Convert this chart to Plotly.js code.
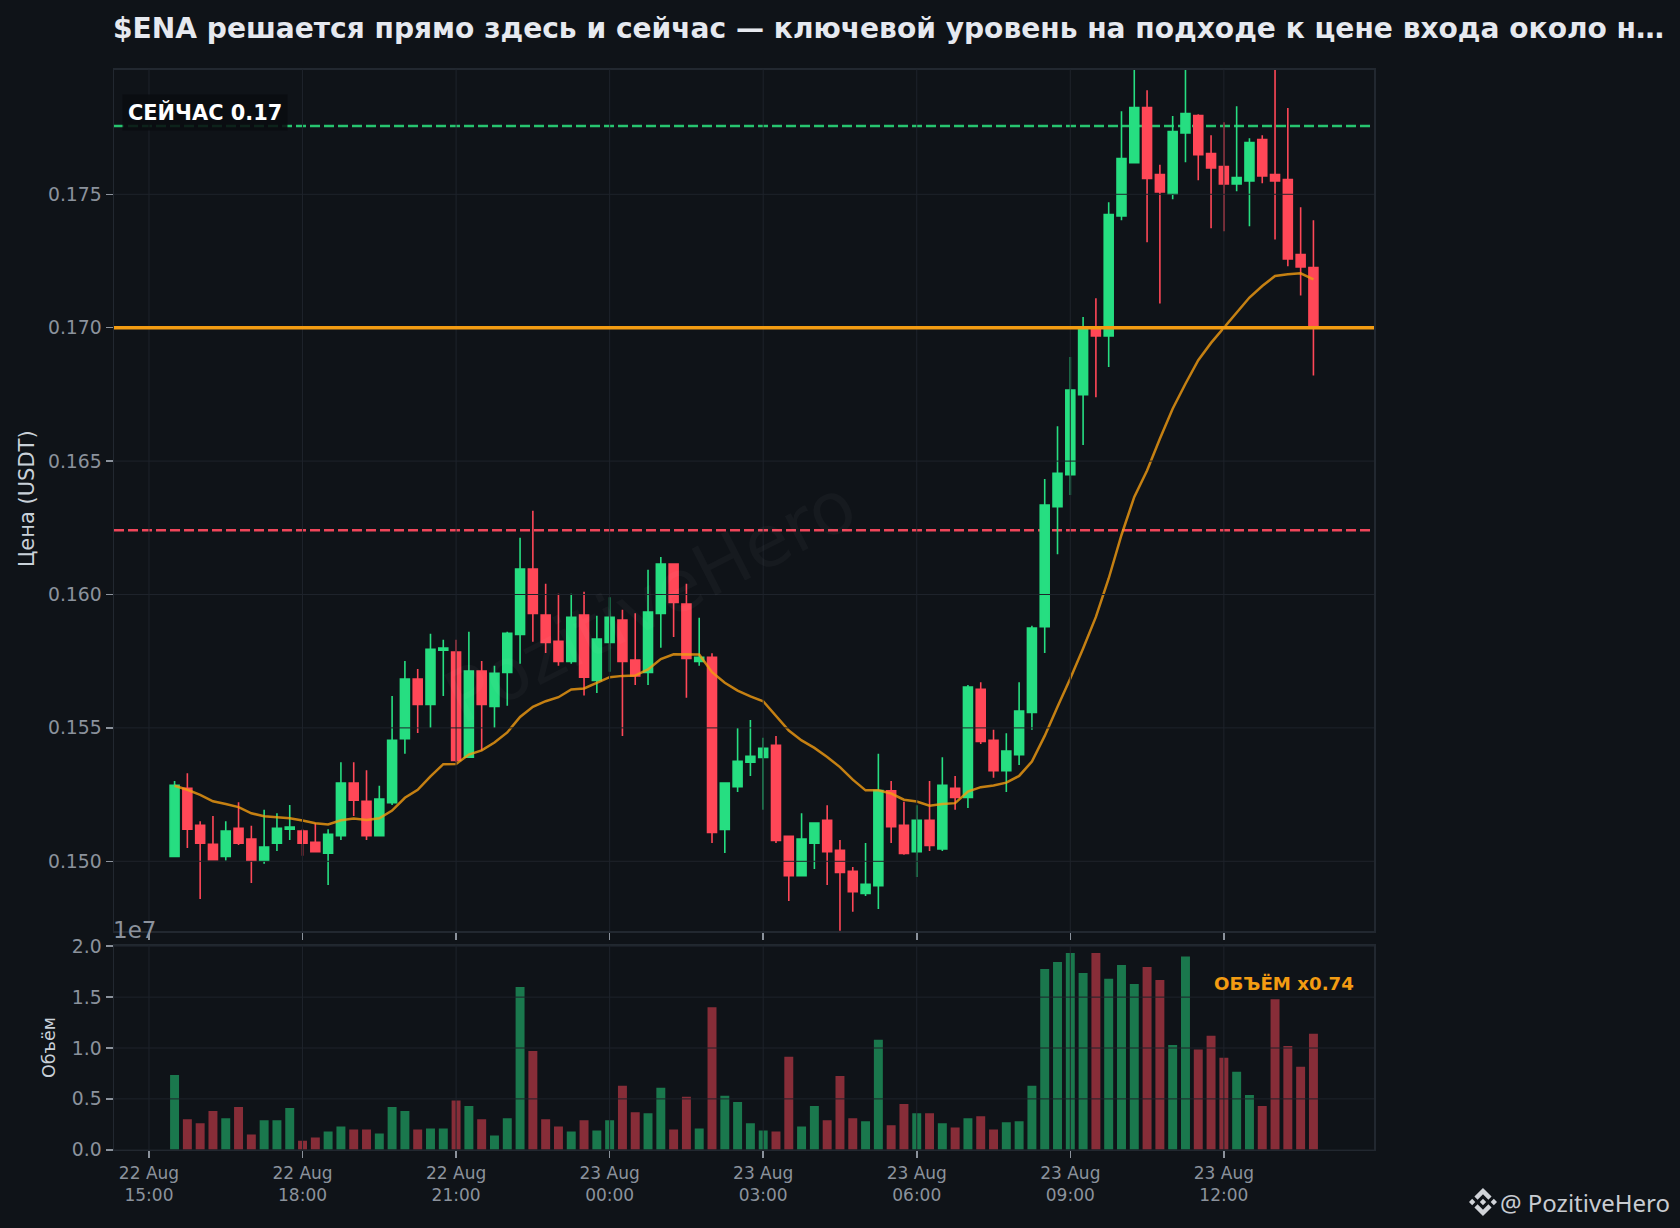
<!DOCTYPE html>
<html>
<head>
<meta charset="utf-8">
<script src="https://cdn.plot.ly/plotly-3.0.1.min.js"></script>
<style>html,body{margin:0;padding:0;background:#0f1318;}#chart{width:1680px;height:1228px;}</style>
</head>
<body>
<div id="chart"></div>
<script>
const times = [
'2025-08-22 15:30','2025-08-22 15:45','2025-08-22 16:00','2025-08-22 16:15','2025-08-22 16:30','2025-08-22 16:45','2025-08-22 17:00','2025-08-22 17:15','2025-08-22 17:30','2025-08-22 17:45',
'2025-08-22 18:00','2025-08-22 18:15','2025-08-22 18:30','2025-08-22 18:45','2025-08-22 19:00','2025-08-22 19:15','2025-08-22 19:30','2025-08-22 19:45','2025-08-22 20:00','2025-08-22 20:15',
'2025-08-22 20:30','2025-08-22 20:45','2025-08-22 21:00','2025-08-22 21:15','2025-08-22 21:30','2025-08-22 21:45','2025-08-22 22:00','2025-08-22 22:15','2025-08-22 22:30','2025-08-22 22:45',
'2025-08-22 23:00','2025-08-22 23:15','2025-08-22 23:30','2025-08-22 23:45','2025-08-23 00:00','2025-08-23 00:15','2025-08-23 00:30','2025-08-23 00:45','2025-08-23 01:00','2025-08-23 01:15',
'2025-08-23 01:30','2025-08-23 01:45','2025-08-23 02:00','2025-08-23 02:15','2025-08-23 02:30','2025-08-23 02:45','2025-08-23 03:00','2025-08-23 03:15','2025-08-23 03:30','2025-08-23 03:45',
'2025-08-23 04:00','2025-08-23 04:15','2025-08-23 04:30','2025-08-23 04:45','2025-08-23 05:00','2025-08-23 05:15','2025-08-23 05:30','2025-08-23 05:45','2025-08-23 06:00','2025-08-23 06:15',
'2025-08-23 06:30','2025-08-23 06:45','2025-08-23 07:00','2025-08-23 07:15','2025-08-23 07:30','2025-08-23 07:45','2025-08-23 08:00','2025-08-23 08:15','2025-08-23 08:30','2025-08-23 08:45',
'2025-08-23 09:00','2025-08-23 09:15','2025-08-23 09:30','2025-08-23 09:45','2025-08-23 10:00','2025-08-23 10:15','2025-08-23 10:30','2025-08-23 10:45','2025-08-23 11:00','2025-08-23 11:15',
'2025-08-23 11:30','2025-08-23 11:45','2025-08-23 12:00','2025-08-23 12:15','2025-08-23 12:30','2025-08-23 12:45','2025-08-23 13:00','2025-08-23 13:15','2025-08-23 13:30','2025-08-23 13:45'];

const opens = [
.15018,.15274,.15135,.15064,.15018,.15124,.15083,.15003,.15068,.1512,
.15113,.15071,.1503,.15096,.15293,.15225,.15096,.1522,.1546,.15683,
.15588,.15791,.15784,.1539,.15713,.1558,.15708,.1585,.16095,.15923,
.15825,.15749,.15923,.15678,.1582,.15904,.15754,.15708,.15929,.16114,
.15964,.15749,.15765,.15119,.1528,.15371,.15389,.15435,.15094,.14946,
.15068,.15154,.15041,.14963,.1488,.14909,.15264,.15135,.15036,.15154,
.15046,.15274,.15239,.15645,.15454,.1534,.154,.15558,.15879,.16329,
.16449,.16749,.16993,.16969,.17419,.17618,.17825,.17574,.175,.1773,
.17795,.17653,.17604,.17539,.1755,.17705,.17574,.17555,.17274,.17225];
const highs = [
.15301,.1533,.1515,.1517,.1515,.15221,.15133,.15193,.1518,.15211,
.1512,.15143,.1512,.15371,.15371,.15341,.15283,.1562,.15751,.15721,
.15853,.1583,.1583,.1586,.15751,.15733,.1586,.16213,.16314,.1604,
.16003,.16003,.1601,.1592,.1599,.15943,.1593,.16093,.16141,.16114,
.1604,.15913,.1578,.15293,.155,.1553,.15463,.1547,.15094,.1518,
.15143,.1521,.1508,.14979,.15069,.15403,.15301,.15223,.1521,.15301,
.1539,.1532,.15661,.15671,.15493,.1548,.15671,.15883,.16433,.16631,
.1689,.1704,.1711,.1747,.17811,.1802,.1789,.17611,.17793,.1803,
.178,.17721,.1777,.1783,.1771,.17721,.1804,.17823,.17451,.17403];
const lows = [
.15018,.1505,.14859,.15003,.15003,.15061,.14919,.14991,.15039,.1508,
.15021,.15033,.14911,.1508,.1517,.1508,.15096,.15211,.15403,.15481,
.155,.1562,.15371,.1539,.15415,.155,.15583,.1574,.15823,.15781,
.15733,.1574,.15621,.15631,.1571,.1547,.15661,.15661,.158,.15841,
.15613,.15733,.15069,.15031,.1526,.1532,.15193,.15069,.14851,.14946,
.14971,.14911,.1474,.14811,.1487,.14821,.15069,.15025,.14941,.15039,
.15039,.15193,.152,.1544,.15313,.1526,.15361,.15493,.15781,.16151,
.16373,.1656,.16739,.16853,.17403,.17618,.1732,.17091,.17481,.1762,
.17553,.17373,.17361,.17511,.1738,.17541,.17331,.1723,.17121,.16821];
const closes = [
.15285,.1512,.15068,.15006,.15113,.15068,.15003,.15053,.15124,.15128,
.15068,.15036,.15101,.15293,.15229,.15096,.15233,.15454,.15683,.15588,
.15795,.15799,.15378,.15713,.15588,.15705,.15855,.16095,.15929,.1582,
.15749,.15915,.1569,.15833,.15915,.15749,.15695,.15934,.16114,.1597,
.1576,.15765,.15108,.15293,.15375,.15394,.15424,.15078,.14946,.15083,
.15143,.15036,.14958,.14886,.14914,.15265,.1513,.15029,.15154,.15059,
.15285,.15239,.15653,.15449,.1534,.15413,.15563,.15874,.16335,.16454,
.16766,.16993,.16969,.17424,.17634,.17825,.17559,.17509,.17735,.17803,
.17648,.17599,.17539,.17563,.17694,.17569,.1755,.17258,.17228,.17];
const maLine = [
.15283,.15268,.15249,.15225,.15215,.15203,.1518,.15169,.15165,.15161,
.15153,.15143,.15138,.15154,.1516,.15155,.15161,.1519,.15238,.15268,
.15318,.15364,.15365,.154,.15416,.15445,.15483,.15541,.15579,.156,
.15615,.15644,.15648,.15668,.1569,.15695,.15696,.15719,.15758,.15776,
.15776,.15775,.15709,.15669,.1564,.15618,.156,.15544,.1549,.15453,
.15425,.15391,.15353,.15306,.15266,.15266,.15254,.15231,.15224,.15208,
.15215,.15218,.15261,.15278,.15284,.15295,.1532,.15374,.1547,.15579,
.15685,.15798,.15916,.1606,.16223,.16366,.16465,.16584,.16696,.1679,
.16878,.16943,.17,.17053,.17113,.17156,.17194,.172,.17204,.17181];
const volumes = [
.736,.30,.26,.38,.31,.42,.15,.29,.29,.41,
.09,.12,.18,.23,.20,.20,.16,.42,.38,.20,
.21,.21,.485,.43,.30,.14,.31,1.60,.97,.30,
.23,.18,.29,.19,.29,.63,.37,.36,.61,.20,
.52,.21,1.40,.53,.47,.26,.19,.18,.915,.23,
.43,.29,.726,.31,.28,1.08,.24,.45,.36,.36,
.26,.22,.31,.33,.20,.27,.28,.63,1.775,1.845,
1.934,1.736,1.934,1.68,1.815,1.63,1.795,1.667,1.03,1.90,
.985,1.12,.905,.766,.538,.43,1.48,1.02,.815,1.14];

const tickTimes = ['2025-08-22 15:00','2025-08-22 18:00','2025-08-22 21:00','2025-08-23 00:00','2025-08-23 03:00','2025-08-23 06:00','2025-08-23 09:00','2025-08-23 12:00'];
const tickLabels = ['22 Aug<br>15:00','22 Aug<br>18:00','22 Aug<br>21:00','23 Aug<br>00:00','23 Aug<br>03:00','23 Aug<br>06:00','23 Aug<br>09:00','23 Aug<br>12:00'];
const priceTicks = [0.150,0.155,0.160,0.165,0.170,0.175];
const volumeTicks = [0,0.5,1,1.5,2];
const resistanceLevel = 0.17756, supportLevel = 0.16241, entryLevel = 0.170;

const BG='#0f1318', GRID='#1e232b', SPINE='#222830', TICK='#8b929c';
const GREEN='#26de81', RED='#ff4757', ORANGE='#f39c12';
const W=1680, H=1228;
const px=x=>x/W, py=y=>1-y/H;
const xRange=['2025-08-22 14:19','2025-08-23 14:56'];

const gridShapes=[];
priceTicks.forEach(v=>gridShapes.push({type:'line',layer:'above',xref:'x domain',yref:'y',x0:0,x1:1,y0:v,y1:v,line:{color:GRID,width:1}}));
tickTimes.forEach(t=>gridShapes.push({type:'line',layer:'above',xref:'x',yref:'y domain',x0:t,x1:t,y0:0,y1:1,line:{color:GRID,width:1}}));
volumeTicks.forEach(v=>gridShapes.push({type:'line',layer:'above',xref:'x2 domain',yref:'y2',x0:0,x1:1,y0:v,y1:v,line:{color:GRID,width:1}}));
tickTimes.forEach(t=>gridShapes.push({type:'line',layer:'above',xref:'x2',yref:'y2 domain',x0:t,x1:t,y0:0,y1:1,line:{color:GRID,width:1}}));

const levelShapes=[
 {type:'line',layer:'below',xref:'x domain',yref:'y',x0:0,x1:1,y0:resistanceLevel,y1:resistanceLevel,line:{color:'#27c46f',width:2.4,dash:'10px,4px'}},
 {type:'line',layer:'below',xref:'x domain',yref:'y',x0:0,x1:1,y0:supportLevel,y1:supportLevel,line:{color:'#f0465a',width:2.4,dash:'10px,4px'}},
 {type:'line',layer:'above',xref:'x domain',yref:'y',x0:0,x1:1,y0:entryLevel,y1:entryLevel,line:{color:ORANGE,width:3.4}}
];

const traces=[
 {type:'candlestick',x:times,open:opens,high:highs,low:lows,close:closes,xaxis:'x',yaxis:'y',
  whiskerwidth:0,hoverinfo:'skip',
  increasing:{line:{color:GREEN,width:1.6},fillcolor:GREEN},
  decreasing:{line:{color:RED,width:1.6},fillcolor:RED}},
 {type:'scatter',mode:'lines',x:times,y:maLine,xaxis:'x',yaxis:'y',hoverinfo:'skip',
  line:{color:'rgba(243,156,18,0.8)',width:2.5}},
 {type:'bar',x:times,y:volumes,xaxis:'x2',yaxis:'y2',hoverinfo:'skip',width:630000,
  marker:{color:closes.map((c,i)=>c>=opens[i]?'rgba(38,222,129,0.5)':'rgba(255,71,87,0.5)'),line:{width:0}}}
];

const axisBase={showline:true,mirror:true,linecolor:SPINE,linewidth:1.5,showgrid:false,zeroline:false,
  ticks:'outside',ticklen:7,tickwidth:1.5,tickcolor:TICK,tickfont:{family:'DejaVu Sans',size:17,color:TICK}};
const yTickFont={family:'DejaVu Sans',size:18.8,color:TICK};

const logo='data:image/svg+xml;utf8,'+encodeURIComponent('<svg xmlns="http://www.w3.org/2000/svg" viewBox="0 0 24 24"><path fill="#d0d3d8" d="M16.624 13.9202l2.7175 2.7154-7.353 7.353-7.353-7.352 2.7175-2.7164 4.6355 4.6595 4.6356-4.6595zm4.6366-4.6366L24 12l-2.7154 2.7164L18.5682 12l2.6924-2.7164zm-9.272.001l2.7163 2.6914-2.7164 2.7174v-.001L9.2721 12l2.7164-2.7154zm-9.2722-.001L5.4088 12l-2.6914 2.6924L0 12l2.7164-2.7164zM11.9885.0115l7.353 7.329-2.7174 2.7154-4.6356-4.6356-4.6355 4.6595-2.7174-2.7154 7.353-7.353z"/></svg>');

const layout={
 width:W,height:H,margin:{l:0,r:0,t:0,b:0},paper_bgcolor:BG,plot_bgcolor:BG,showlegend:false,dragmode:false,
 boxgap:0,boxgroupgap:0.3,
 title:{text:'$ENA решается прямо здесь и сейчас — ключевой уровень на подходе к цене входа около н…',
   x:px(113),xref:'paper',xanchor:'left',y:py(28),yref:'paper',yanchor:'middle',
   font:{family:'DejaVu Sans',size:28.1,color:'#e6e9ef',weight:'bold'}},
 xaxis:Object.assign({},axisBase,{domain:[px(114),px(1374)],anchor:'y',type:'date',range:xRange,tickmode:'array',tickvals:tickTimes,ticktext:tickLabels,showticklabels:false,rangeslider:{visible:false}}),
 yaxis:Object.assign({},axisBase,{domain:[py(931),py(69.5)],anchor:'x',range:[0.147388,0.179677],tickmode:'array',tickvals:priceTicks,tickformat:'.3f',tickfont:yTickFont}),
 xaxis2:Object.assign({},axisBase,{domain:[px(114),px(1374)],anchor:'y2',type:'date',range:xRange,tickmode:'array',tickvals:tickTimes,ticktext:tickLabels,rangeslider:{visible:false}}),
 yaxis2:Object.assign({},axisBase,{domain:[py(1149.8),py(945.5)],anchor:'x2',range:[0,2.007],tickmode:'array',tickvals:volumeTicks,tickformat:'.1f',tickfont:yTickFont}),
 shapes:gridShapes.concat(levelShapes),
 images:[{source:logo,xref:'paper',yref:'paper',x:px(1469),y:py(1188),sizex:28/W,sizey:28/H,xanchor:'left',yanchor:'top',sizing:'stretch',layer:'above'}],
 annotations:[
  {text:'PozitiveHero',xref:'paper',yref:'paper',x:px(650),y:py(601),textangle:-27,showarrow:false,xanchor:'center',yanchor:'middle',font:{family:'DejaVu Sans',size:72,color:'rgba(255,255,255,0.03)'}},
  {text:'<b>СЕЙЧАС 0.17</b>',xref:'paper',yref:'paper',x:px(205),y:py(112),showarrow:false,xanchor:'center',yanchor:'middle',font:{family:'DejaVu Sans',size:20.9,color:'#ffffff'},bgcolor:'rgba(10,12,16,0.88)',borderpad:5},
  {text:'<b>ОБЪЁМ x0.74</b>',xref:'paper',yref:'paper',x:px(1356),y:py(983),showarrow:false,xanchor:'right',yanchor:'middle',font:{family:'DejaVu Sans',size:18.2,color:ORANGE}},
  {text:'1e7',xref:'paper',yref:'paper',x:px(113),y:py(930),showarrow:false,xanchor:'left',yanchor:'middle',borderpad:0,borderwidth:0,font:{family:'DejaVu Sans',size:23,color:TICK}},
  {text:'Цена (USDT)',xref:'paper',yref:'paper',x:px(27),y:py(499),textangle:-90,showarrow:false,xanchor:'center',yanchor:'middle',font:{family:'DejaVu Sans',size:21,color:'#c9d1d9'}},
  {text:'Объём',xref:'paper',yref:'paper',x:px(49),y:py(1048),textangle:-90,showarrow:false,xanchor:'center',yanchor:'middle',font:{family:'DejaVu Sans',size:17.5,color:'#c9d1d9'}},
  {text:'@ PozitiveHero',xref:'paper',yref:'paper',x:px(1672),y:py(1202),showarrow:false,xanchor:'right',yanchor:'middle',font:{family:'Noto Sans',size:24,color:'#c8ccd2'}}
 ]
};
Plotly.newPlot('chart',traces,layout,{staticPlot:true,displayModeBar:false});
</script>
</body>
</html>
